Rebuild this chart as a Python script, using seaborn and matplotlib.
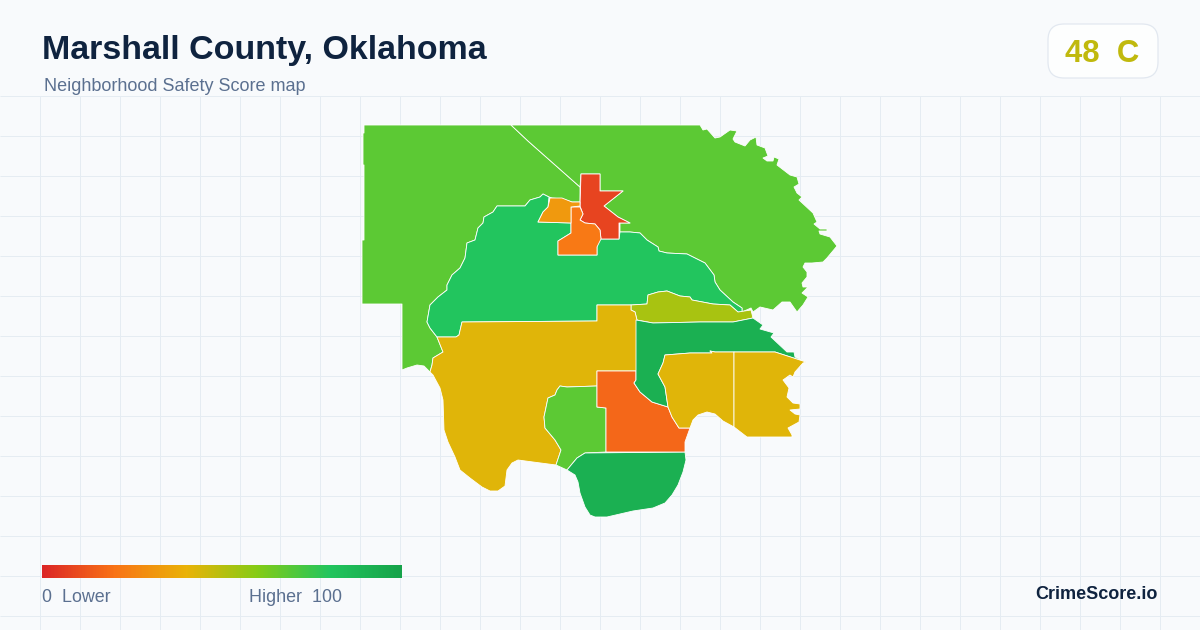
import numpy as np
import pandas as pd
import seaborn as sns
import matplotlib.pyplot as plt
from matplotlib.patches import FancyBboxPatch

# map outlines (pixel space of the 1200x630 card)
northwest = [(364,125),(511,125),(528,141),(580,187),(580,202),(572,202),(563,199),(552,198),(549,197),(543,194),
             (540,197),(530,200),(525,206),(497,206),(493,212),(484,217),(483,223),(478,228),(475,240),(467,243),
             (465,258),(460,268),(452,275),(447,285),(447,290),(438,297),(430,305),(427,322),(430,328),(437,337),
             (443,352),(433,358),(432,365),(430,372),(424,366),(417,365),(407,368),(402,370),(402,304),(362,304),
             (362,240),(364,240),(364,165),(363,165),(363,133),(364,133)]
northeast = [(511,125),(700,125),(703,130),(707,129),(715,138),(720,137),(730,130),(737,131),(733,139),(735,142),
             (745,146),(750,140),(756,137),(757,145),(765,148),(768,156),(763,158),(767,161),(773,161),(774,157),
             (779,159),(777,165),(790,175),(797,177),(799,184),(794,187),(797,193),(802,197),(799,200),(813,213),
             (817,222),(814,224),(820,229),(827,229),(827,231),(819,231),(820,234),(830,237),(837,246),(827,258),
             (823,262),(812,263),(805,263),(803,267),(807,272),(807,277),(802,283),(803,287),(808,287),(802,293),
             (808,297),(803,305),(797,312),(790,302),(782,302),(773,310),(760,307),(753,312),(751,308),(742,312),
             (742,308),(733,302),(720,290),(715,282),(714,275),(705,263),(695,258),(687,254),(667,253),(659,251),
             (658,247),(647,240),(640,233),(630,232),(620,232),(620,223),(630,223),(618,217),(604,206),(623,191),
             (600,191),(600,174),(581,174),(580,187),(528,141)]
central = [(497,206),(525,206),(530,200),(540,197),(543,194),(549,197),(548,207),(543,212),(538,222),(571,223),
           (571,233),(558,241),(558,255),(597,255),(597,239),(619,239),(620,232),(630,232),(640,233),(647,240),
           (658,247),(659,251),(667,253),(687,254),(695,258),(705,263),(714,275),(715,282),(720,290),(733,302),
           (742,308),(742,312),(738,312),(730,305),(713,304),(692,300),(690,297),(680,296),(667,291),(658,292),
           (648,295),(647,304),(631,305),(597,305),(597,321),(462,322),(459,335),(456,337),(437,337),(430,328),
           (427,322),(430,305),(438,297),(447,290),(447,285),(452,275),(460,268),(465,258),(467,243),(475,240),
           (478,228),(483,223),(484,217),(493,212)]
red_tract = [(581,174),(600,174),(600,191),(623,191),(604,206),(618,217),(630,223),(619,223),(619,239),(601,239),
             (600,230),(595,224),(585,223),(580,220),(583,214),(580,206)]
orange_tract = [(571,207),(580,207),(583,214),(580,220),(585,223),(595,224),(600,230),(601,239),(597,247),(597,255),
                (558,255),(558,241),(571,233)]
amber_tract = [(550,198),(562,198),(572,202),(580,202),(580,206),(571,207),(571,223),(538,222),(543,212),(548,207)]
olive_tract = [(647,304),(648,295),(658,292),(667,291),(680,296),(690,297),(692,300),(713,304),(730,305),(738,312),
               (751,310),(753,318),(733,322),(700,322),(653,323),(637,320),(635,312),(631,310),(631,305)]
gold_west = [(462,322),(597,321),(597,305),(631,305),(631,310),(635,312),(637,320),(637,371),(597,371),(597,386),
             (567,387),(560,386),(557,390),(555,395),(548,398),(544,417),(545,428),(555,440),(561,450),(556,465),
             (533,462),(518,460),(512,463),(507,470),(505,486),(498,491),(490,491),(482,487),(470,478),(460,470),
             (455,457),(448,442),(444,430),(443,400),(440,388),(433,375),(430,372),(432,365),(433,358),(443,352),
             (437,337),(456,337),(459,335)]
lime_middle = [(597,386),(597,407),(606,408),(606,452),(585,453),(577,458),(567,470),(556,465),(561,450),(555,440),
               (545,428),(544,417),(548,398),(555,395),(557,390),(560,386),(567,387)]
dark_south = [(585,453),(685,452),(686,460),(683,472),(678,485),(672,495),(665,503),(653,508),(633,511),(620,514),
              (607,517),(595,517),(590,515),(585,507),(580,493),(578,482),(575,475),(567,470),(577,458)]
orange_red = [(597,371),(636,371),(636,380),(634,383),(640,392),(652,402),(668,407),(672,417),(679,428),(690,428),
              (685,442),(685,452),(606,452),(606,408),(597,407)]
dark_east = [(636,320),(653,323),(700,322),(733,322),(753,318),(763,325),(760,329),(774,333),(771,337),(787,352),
             (794,352),(795,357),(806,362),(775,352),(735,352),(715,352),(710,351),(712,353),(690,353),(665,355),
             (663,363),(658,374),(665,387),(668,407),(652,402),(640,392),(634,383),(636,380)]
gold_middle = [(665,355),(690,353),(712,353),(710,351),(715,352),(734,352),(734,427),(723,421),(715,414),(707,412),
               (698,415),(693,420),(690,428),(679,428),(672,417),(668,407),(665,387),(658,374),(663,363)]
gold_east = [(734,352),(775,352),(806,362),(803,363),(795,372),(793,377),(790,375),(783,380),(789,388),(787,397),
             (793,403),(800,404),(800,409),(790,410),(795,414),(800,415),(799,422),(788,428),(792,435),(792,437),
             (747,437),(734,427)]

tracts = [northwest, northeast, central, red_tract, orange_tract, amber_tract, olive_tract, gold_west,
          lime_middle, dark_south, orange_red, dark_east, gold_middle, gold_east]
scores = [68, 68, 80, 8, 22, 32, 53, 42, 68, 92, 17, 92, 42, 42]

title = "Marshall County, Oklahoma"
subtitle = "Neighborhood Safety Score map"
grade = "48  C"
legend_low = "0  Lower"
legend_high = "Higher  100"
brand = "CrimeScore.io"

ramp = ["#dc2626", "#f97316", "#eab308", "#84cc16", "#22c55e", "#16a34a"]

sns.set_theme(style="white")
plt.rcParams["font.family"] = ["Liberation Sans", "DejaVu Sans"]
cmap = sns.blend_palette(ramp, as_cmap=True)

bg = "#f8fafc"
fig = plt.figure(figsize=(12, 6.3), dpi=100, facecolor=bg)
ax = fig.add_axes([0, 0, 1, 1], facecolor=bg)

# background grid, starts under the header
ax.vlines(np.arange(40, 1200, 40), 96, 630, color="#e5ecf2", lw=0.72, zorder=0)
ax.hlines(np.arange(96, 630, 40), 0, 1200, color="#e5ecf2", lw=0.72, zorder=0)

for pts, s in zip(tracts, scores):
    df = pd.DataFrame(pts, columns=["x", "y"])
    ax.fill(df["x"], df["y"], facecolor=cmap(s / 100), edgecolor="white", lw=0.6, joinstyle="round", zorder=2)

# legend bar
gradient = np.linspace(0, 1, 360).reshape(1, -1)
ax.imshow(gradient, cmap=cmap, extent=(42, 402, 578, 565), aspect="auto", zorder=3)

ax.text(42, 50.5, title, fontsize=24.45, fontweight="bold", color="#0f233f", va="center", ha="left")
ax.text(44, 86.5, subtitle, fontsize=12.95, color="#5b7090", va="center", ha="left")
ax.text(42, 597.5, legend_low, fontsize=12.9, color="#5b7090", va="center", ha="left")
ax.text(342, 597.5, legend_high, fontsize=12.9, color="#5b7090", va="center", ha="right")
ax.text(1158, 594.5, brand, fontsize=13, fontweight="bold", color="#0f233f", va="center", ha="right")

# grade badge
badge = FancyBboxPatch((1064, 40), 78, 22, boxstyle="round,pad=16,rounding_size=16",
                       facecolor="#fdfefe", edgecolor="#e2e8f0", lw=0.9, zorder=3)
ax.add_patch(badge)
ax.text(1102.5, 54.5, grade, fontsize=22.4, fontweight="bold", color="#c0b90d", va="center", ha="center", zorder=4)

ax.set_xlim(0, 1200)
ax.set_ylim(630, 0)
ax.axis("off")

fig.savefig("out.png", dpi=100, facecolor=bg)
